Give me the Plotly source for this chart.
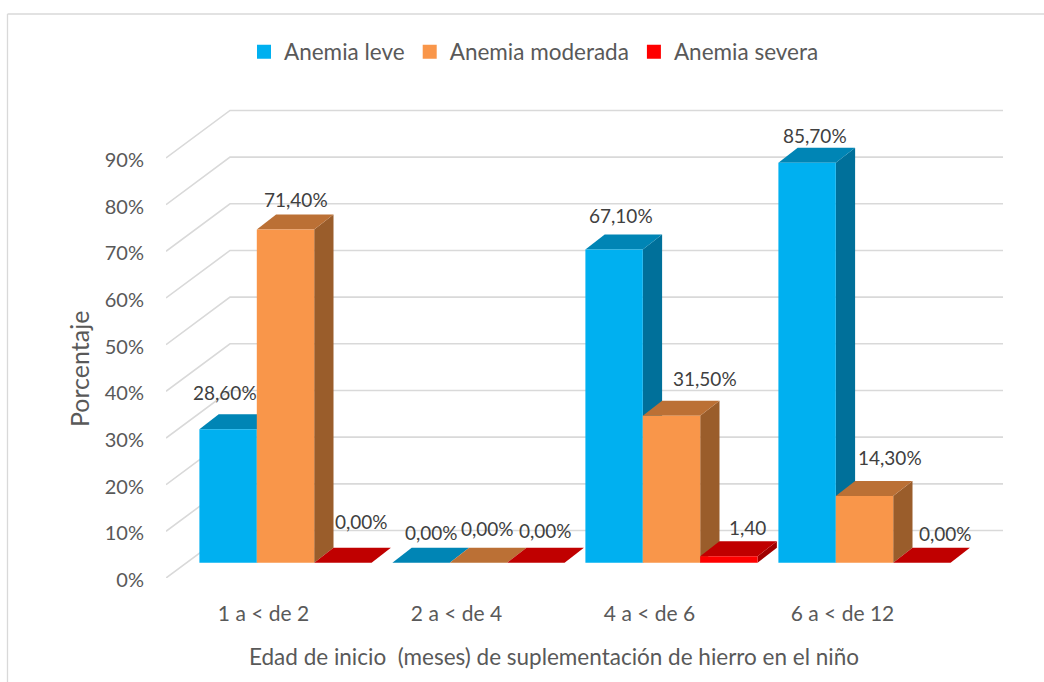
import plotly.graph_objects as go

categories = ["1 a < de 2", "2 a < de 4", "4 a < de 6", "6 a < de 12"]
series_names = ["Anemia leve", "Anemia moderada", "Anemia severa"]
leve = [28.6, 0.0, 67.1, 85.7]
moderada = [71.4, 0.0, 31.5, 14.3]
severa = [0.0, 0.0, 1.4, 0.0]
label_texts = [
    ["28,60%", "0,00%", "67,10%", "85,70%"],
    ["71,40%", "0,00%", "31,50%", "14,30%"],
    ["0,00%", "0,00%", "1,40", "0,00%"],
]
y_ticks = [0, 10, 20, 30, 40, 50, 60, 70, 80, 90]

series_values = [leve, moderada, severa]
FRONT = ["#00B0F0", "#F9964A", "#FF0000"]
TOP = ["#0085B5", "#BB7035", "#C00000"]
SIDE = ["#00709A", "#9A5D2B", "#A00000"]
TXT = "#595959"
LBL = "#404040"
FONT = "Lato"

W, H = 1044, 682
L, R, T, B = 166, 1003, 100, 578
PITCH = 193.0
PX_Y = 4.667
X0 = 285.5
xr = [(L - X0) / PITCH, (R - X0) / PITCH]
yr = [0, (B - T) / PX_Y]
BW = 57.4 / PITCH
DX, DY = 19.3 / PITCH, 15.0 / PX_Y
BASE = (B - 562.7) / PX_Y
WALL_DX, WALL_DY = 64 / PITCH, 47.5 / PX_Y

fig = go.Figure()

for v in y_ticks:
    fig.add_trace(go.Scatter(
        x=[xr[0], xr[0] + WALL_DX, xr[1]], y=[v, v + WALL_DY, v + WALL_DY],
        mode="lines", line=dict(color="#D9D9D9", width=1.6),
        showlegend=False, hoverinfo="skip"))


def poly(xs, ys, color):
    fig.add_trace(go.Scatter(
        x=xs + xs[:1], y=ys + ys[:1], mode="lines", fill="toself",
        fillcolor=color, line=dict(width=0, color=color),
        showlegend=False, hoverinfo="skip"))


for g in range(len(categories)):
    for s, vals in enumerate(series_values):
        x0 = g + (s - 1.5) * BW
        x1 = x0 + BW
        top = BASE + vals[g]
        poly([x1, x1 + DX, x1 + DX, x1], [BASE, BASE + DY, top + DY, top], SIDE[s])
        poly([x0, x1, x1 + DX, x0 + DX], [top, top, top + DY, top + DY], TOP[s])
        if vals[g] > 0:
            poly([x0, x1, x1, x0], [BASE, BASE, top, top], FRONT[s])

for s, name in enumerate(series_names):
    fig.add_trace(go.Scatter(
        x=[None], y=[None], mode="markers", name=name,
        marker=dict(symbol="square", size=14, color=FRONT[s])))

# label offsets in pixels from the bar's top front centre
label_dx = [[-3, 10, 7, 8], [10, 9, 33, 25], [19, 9.5, 18.5, 24]]
label_dy = [[37, 30, 34, 27.5], [30, 34, 37, 38], [41, 32, 29, 29]]
annotations = []
for s, vals in enumerate(series_values):
    for g, v in enumerate(vals):
        annotations.append(dict(
            x=g + (s - 1) * BW, y=BASE + v, xref="x", yref="y",
            text=label_texts[s][g], showarrow=False,
            xshift=label_dx[s][g], yshift=label_dy[s][g],
            font=dict(family=FONT, size=19, color=LBL)))


def px(x):
    return (x - L) / (R - L)


def py(y):
    return (B - y) / (B - T)


annotations.append(dict(
    x=px(554), y=py(656), xref="paper", yref="paper", showarrow=False,
    xanchor="center", yanchor="middle",
    text="Edad de inicio  (meses) de suplementación de hierro en el niño",
    font=dict(family=FONT, size=22.5, color=TXT)))
annotations.append(dict(
    x=px(79), y=py(369), xref="paper", yref="paper", showarrow=False,
    xanchor="center", yanchor="middle",
    text="Porcentaje", textangle=-90,
    font=dict(family=FONT, size=25, color=TXT)))

fig.update_layout(
    width=W, height=H, autosize=False,
    margin=dict(l=L, r=W - R, t=T, b=H - B),
    paper_bgcolor="white", plot_bgcolor="white",
    font=dict(family=FONT, color=TXT, size=20),
    xaxis=dict(range=xr, showgrid=False, zeroline=False, showline=False,
               tickmode="array", tickvals=[g - 22 / PITCH for g in range(4)],
               ticktext=categories, ticks="", ticklabelstandoff=21,
               tickfont=dict(family=FONT, size=21, color=TXT), fixedrange=True),
    yaxis=dict(range=yr, showgrid=False, zeroline=False, showline=False,
               tickmode="array", tickvals=y_ticks,
               ticktext=[f"{v}%" for v in y_ticks], ticks="", ticklabelstandoff=21,
               ticklabelshift=2,
               tickfont=dict(family=FONT, size=20, color=TXT), fixedrange=True),
    legend=dict(orientation="h", x=px(534), xanchor="center", y=py(52), yanchor="middle",
                font=dict(family=FONT, size=22.5, color=TXT), itemsizing="trace",
                bgcolor="rgba(0,0,0,0)"),
    annotations=annotations,
    shapes=[
        dict(type="line", xref="paper", yref="paper",
             x0=px(7.5), x1=px(1044), y0=py(14), y1=py(14),
             line=dict(color="#D9D9D9", width=1.3), layer="below"),
        dict(type="line", xref="paper", yref="paper",
             x0=px(7.5), x1=px(7.5), y0=py(14), y1=py(690),
             line=dict(color="#D9D9D9", width=1.3), layer="below"),
    ],
)

fig.write_html("out.html", config=dict(displayModeBar=False),
               post_script="document.body.style.margin='0';document.body.style.overflow='hidden';")
